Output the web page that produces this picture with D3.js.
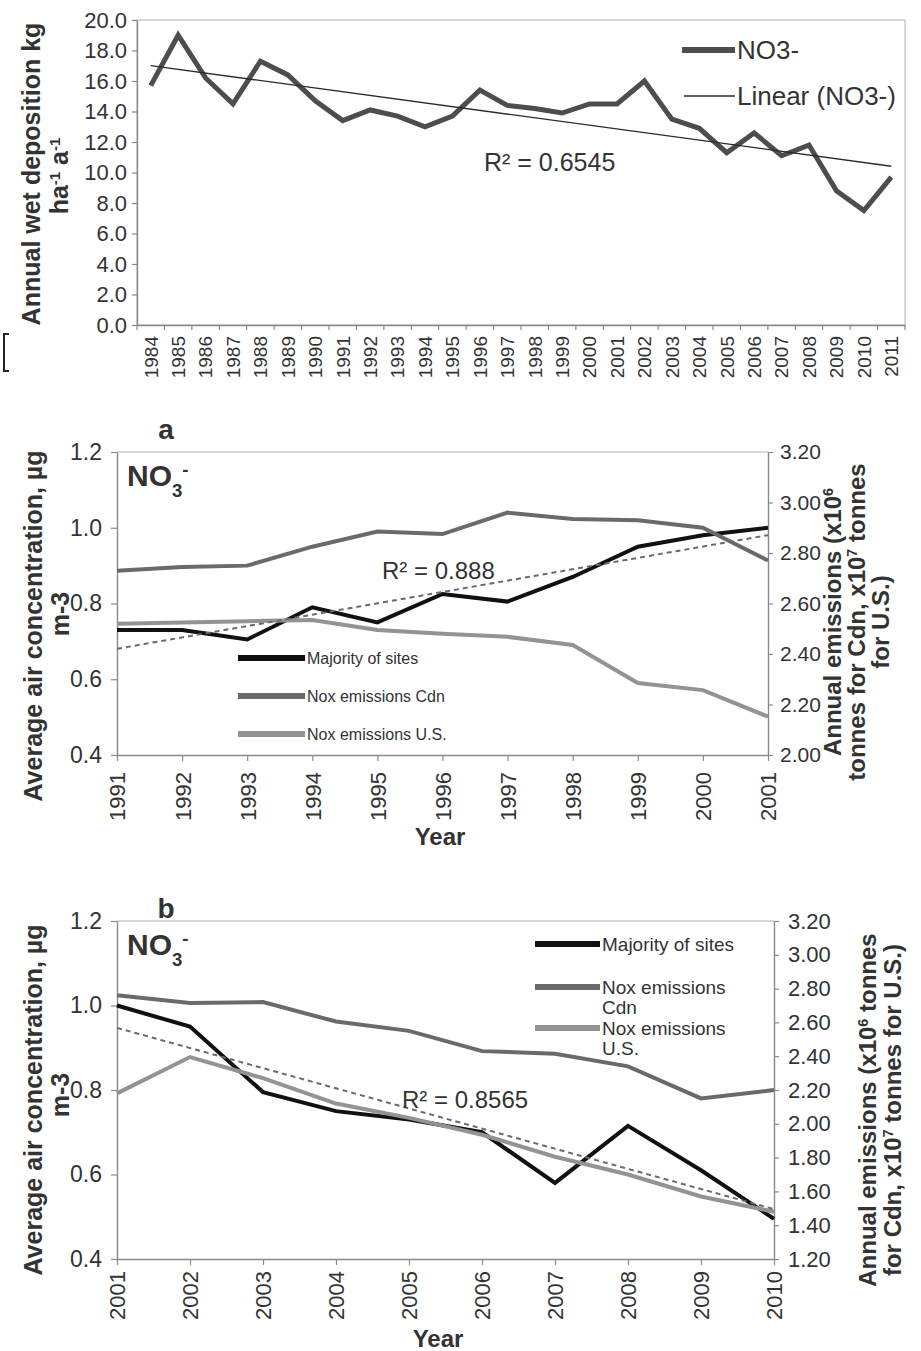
<!DOCTYPE html>
<html>
<head>
<meta charset="utf-8">
<script src="https://cdn.jsdelivr.net/npm/d3@7/dist/d3.min.js"></script>
<style>
  html, body { margin: 0; padding: 0; background: #fff; }
  svg { display: block; }
  text { font-family: "Liberation Sans", Arial, Helvetica, sans-serif; fill: #333; }
</style>
</head>
<body>
<svg id="fig" width="921" height="1351"></svg>
<script>
// ---------- Annual wet deposition of nitrate (kg ha-1 a-1) ----------
const depYears = [1984, 1985, 1986, 1987, 1988, 1989, 1990, 1991, 1992, 1993, 1994, 1995, 1996, 1997,
                  1998, 1999, 2000, 2001, 2002, 2003, 2004, 2005, 2006, 2007, 2008, 2009, 2010, 2011];
const depNO3 = [15.7, 19.0, 16.2, 14.5, 17.3, 16.4, 14.7, 13.4, 14.1, 13.7, 13.0, 13.7, 15.4, 14.4,
                14.2, 13.9, 14.5, 14.5, 16.0, 13.5, 12.9, 11.3, 12.6, 11.1, 11.8, 8.8, 7.5, 9.7];
const depTicks = [0, 2, 4, 6, 8, 10, 12, 14, 16, 18, 20];
const depR2 = "R\u00b2 = 0.6545";

// ---------- Panel a: 1991-2001 ----------
const yearsA = [1991, 1992, 1993, 1994, 1995, 1996, 1997, 1998, 1999, 2000, 2001];
const sitesA = [0.73, 0.73, 0.705, 0.79, 0.75, 0.825, 0.805, 0.87, 0.95, 0.98, 1.0];
const cdnA   = [2.73, 2.745, 2.75, 2.825, 2.885, 2.875, 2.96, 2.935, 2.93, 2.90, 2.77];
const usA    = [2.52, 2.525, 2.53, 2.535, 2.495, 2.48, 2.468, 2.436, 2.285, 2.257, 2.152];
const emisTicksA = [2.0, 2.2, 2.4, 2.6, 2.8, 3.0, 3.2];
const r2A = "R\u00b2 = 0.888";

// ---------- Panel b: 2001-2010 ----------
const yearsB = [2001, 2002, 2003, 2004, 2005, 2006, 2007, 2008, 2009, 2010];
const sitesB = [1.0, 0.95, 0.795, 0.75, 0.73, 0.70, 0.58, 0.715, 0.61, 0.495];
const cdnB   = [2.76, 2.715, 2.72, 2.605, 2.55, 2.43, 2.415, 2.34, 2.15, 2.20];
const usB    = [2.18, 2.395, 2.27, 2.12, 2.035, 1.935, 1.805, 1.70, 1.57, 1.48];
const emisTicksB = [1.2, 1.4, 1.6, 1.8, 2.0, 2.2, 2.4, 2.6, 2.8, 3.0, 3.2];
const r2B = "R\u00b2 = 0.8565";

const concTicks = [0.4, 0.6, 0.8, 1.0, 1.2];
const seriesNames = ["Majority of sites", "Nox emissions Cdn", "Nox emissions U.S."];

// ---------- shared styling ----------
const AXIS = "#8a8a8a", FRAME = "#b0b0b0", INK = "#333";
const C_SITES = "#111", C_CDN = "#6a6a6a", C_US = "#939393", C_TREND = "#6a6a6a";

const svg = d3.select("#fig");

// least-squares line through (x, y) pairs
function linearFit(xs, ys) {
  const mx = d3.mean(xs), my = d3.mean(ys);
  let sxy = 0, sxx = 0;
  xs.forEach((x, i) => { sxy += (x - mx) * (ys[i] - my); sxx += (x - mx) * (x - mx); });
  const slope = sxy / sxx, icpt = my - slope * mx;
  return x => icpt + slope * x;
}

function styleAxis(g, size) {
  g.attr("font-family", null).attr("font-size", null);
  g.select(".domain").attr("stroke", AXIS).attr("stroke-width", 1.4);
  g.selectAll(".tick line").attr("stroke", AXIS).attr("stroke-width", 1.2);
  g.selectAll(".tick text").attr("fill", INK).style("font-size", size + "px");
}

// rotated (bottom-to-top) text, centred on (cx, cy)
function vText(g, cx, cy, parts, size, weight) {
  const t = g.append("text")
    .attr("transform", `translate(${cx},${cy}) rotate(-90)`)
    .attr("text-anchor", "middle").attr("dy", "0.35em")
    .style("font-size", size + "px").style("font-weight", weight || "bold").attr("fill", "#3a3a3a");
  addParts(t, parts);
  return t;
}

// parts: array of strings or {t, sup|sub}
function addParts(t, parts) {
  parts.forEach(p => {
    if (typeof p === "string") t.append("tspan").text(p);
    else t.append("tspan").text(p.t)
      .attr("baseline-shift", p.sup ? "super" : "sub")
      .style("font-size", (p.scale || 0.6) * 100 + "%");
  });
}

// ================= Panel: wet deposition =================
(function () {
  const L = 137, R = 905, T = 20, B = 325;
  const g = svg.append("g");
  const x = d3.scaleBand().domain(depYears).range([L, R]);
  const y = d3.scaleLinear().domain([0, 20]).range([B, T]);

  g.append("rect").attr("x", L).attr("y", T).attr("width", R - L).attr("height", B - T)
    .attr("fill", "none").attr("stroke", FRAME).attr("stroke-width", 1);

  const ya = g.append("g").attr("transform", `translate(${L},0)`)
    .call(d3.axisLeft(y).tickValues(depTicks).tickFormat(d3.format(".1f")).tickSize(5).tickSizeOuter(0).tickPadding(5));
  styleAxis(ya, 22);

  const xa = g.append("g").attr("transform", `translate(0,${B})`)
    .call(d3.axisBottom(x).tickSize(0).tickSizeOuter(0));
  styleAxis(xa, 19);
  xa.selectAll(".tick text").attr("transform", "rotate(-90)").attr("text-anchor", "end")
    .attr("x", -11).attr("y", 0).attr("dy", "0.36em");
  // tick marks sit on the category boundaries
  g.append("g").selectAll("line").data(depYears.map(d => x(d)).concat([x.range()[1]]))
    .join("line").attr("x1", d => d).attr("x2", d => d).attr("y1", B).attr("y2", B + 5)
    .attr("stroke", AXIS).attr("stroke-width", 1.2);

  const cx = d => x(d) + x.bandwidth() / 2;
  const fit = linearFit(depYears, depNO3);

  g.append("path").datum(depNO3)
    .attr("d", d3.line().x((d, i) => cx(depYears[i])).y(d => y(d)))
    .attr("fill", "none").attr("stroke", "#4d4d4d").attr("stroke-width", 5).attr("stroke-linejoin", "miter");

  const ends = [depYears[0], depYears[depYears.length - 1]];
  g.append("line")
    .attr("x1", cx(ends[0])).attr("y1", y(fit(ends[0])))
    .attr("x2", cx(ends[1])).attr("y2", y(fit(ends[1])))
    .attr("stroke", "#2a2a2a").attr("stroke-width", 1.3);

  // legend
  g.append("line").attr("x1", 682).attr("x2", 735).attr("y1", 50).attr("y2", 50)
    .attr("stroke", "#4d4d4d").attr("stroke-width", 6);
  g.append("text").attr("x", 737).attr("y", 50).attr("dy", "0.35em").style("font-size", "26px").text("NO3-");
  g.append("line").attr("x1", 684).attr("x2", 735).attr("y1", 96).attr("y2", 96)
    .attr("stroke", "#2a2a2a").attr("stroke-width", 1.3);
  g.append("text").attr("x", 737).attr("y", 96).attr("dy", "0.35em").style("font-size", "26px").text("Linear (NO3-)");

  g.append("text").attr("x", 484).attr("y", 162).attr("dy", "0.35em").style("font-size", "25px").text(depR2);

  vText(g, 31, 174, ["Annual wet deposition kg"], 25);
  vText(g, 59, 176, ["ha", { t: "-1", sup: true }, " a", { t: "-1", sup: true }], 25);

  // bracket remnant at the left margin
  g.append("path").attr("d", "M9,334 H4 V371 H9").attr("fill", "none").attr("stroke", "#222").attr("stroke-width", 2);
})();

// ================= Panels a and b =================
function drawPanel(cfg) {
  const { L, R, T, B } = cfg.box;
  const g = svg.append("g");
  const x = d3.scalePoint().domain(cfg.years).range([L, R]);
  const yL = d3.scaleLinear().domain([0.4, 1.2]).range([B, T]);
  const yR = d3.scaleLinear().domain(d3.extent(cfg.rightTicks)).range([B, T]);

  g.append("line").attr("x1", L).attr("x2", R).attr("y1", T).attr("y2", T)
    .attr("stroke", FRAME).attr("stroke-width", 1);

  const la = g.append("g").attr("transform", `translate(${L},0)`)
    .call(d3.axisLeft(yL).tickValues(concTicks).tickFormat(d3.format(".1f")).tickSize(6).tickSizeOuter(0).tickPadding(9));
  styleAxis(la, 23);
  const ra = g.append("g").attr("transform", `translate(${R},0)`)
    .call(d3.axisRight(yR).tickValues(cfg.rightTicks).tickFormat(d3.format(".2f")).tickSize(5).tickSizeOuter(0).tickPadding(cfg.rpad));
  styleAxis(ra, cfg.rFont);
  const ba = g.append("g").attr("transform", `translate(0,${B})`)
    .call(d3.axisBottom(x).tickSize(6).tickSizeOuter(0));
  styleAxis(ba, cfg.xFont);
  ba.selectAll(".tick text").attr("transform", "rotate(-90)").attr("text-anchor", "end")
    .attr("x", -cfg.xpad).attr("y", 0).attr("dy", "0.36em");

  const line = scale => d3.line().x((d, i) => x(cfg.years[i])).y(d => scale(d));
  const fit = linearFit(cfg.years, cfg.sites);

  g.append("path").datum(cfg.sites).attr("d", line(yL))
    .attr("fill", "none").attr("stroke", C_SITES).attr("stroke-width", 4);
  g.append("path").datum(cfg.cdn).attr("d", line(yR))
    .attr("fill", "none").attr("stroke", C_CDN).attr("stroke-width", 4);
  g.append("path").datum(cfg.us).attr("d", line(yR))
    .attr("fill", "none").attr("stroke", C_US).attr("stroke-width", 4);

  const y0 = cfg.years[0], y1 = cfg.years[cfg.years.length - 1];
  g.append("line").attr("x1", x(y0)).attr("y1", yL(fit(y0))).attr("x2", x(y1)).attr("y2", yL(fit(y1)))
    .attr("stroke", C_TREND).attr("stroke-width", 2).attr("stroke-dasharray", "5,4");

  g.append("text").attr("x", cfg.r2.x).attr("y", cfg.r2.y).attr("dy", "0.35em")
    .style("font-size", "24px").text(cfg.r2.text);

  // legend
  const colors = [C_SITES, C_CDN, C_US];
  cfg.legend.rows.forEach((row, i) => {
    g.append("line").attr("x1", cfg.legend.x0).attr("x2", cfg.legend.x1)
      .attr("y1", row.y).attr("y2", row.y).attr("stroke", colors[i]).attr("stroke-width", 6);
    const t = g.append("text").attr("x", cfg.legend.x1 + 2).attr("y", row.y)
      .style("font-size", cfg.legend.size + "px");
    row.lines.forEach((s, k) => t.append("tspan").attr("x", cfg.legend.x1 + 2)
      .attr("dy", k === 0 ? "0.35em" : cfg.legend.lh + "px").text(s));
  });

  // panel letter and species label
  g.append("text").attr("x", cfg.letter.x).attr("y", cfg.letter.y).attr("text-anchor", "middle")
    .style("font-size", "28px").style("font-weight", "bold").attr("fill", "#111").text(cfg.letter.t);
  const sp = g.append("text").attr("x", L + 10).attr("y", T + 34)
    .style("font-size", "30px").style("font-weight", "bold").attr("fill", "#1a1a1a");
  addParts(sp, ["NO", { t: "3", sub: true, scale: 0.62 }, { t: "-", sup: true, scale: 0.62 }]);

  // axis titles
  g.append("text").attr("x", cfg.yearX).attr("y", B + cfg.yearDy).attr("text-anchor", "middle")
    .style("font-size", "24px").style("font-weight", "bold").attr("fill", "#3a3a3a").text("Year");
  vText(g, 33, cfg.leftMid, ["Average air concentration, \u00b5g"], 25);
  vText(g, 60, cfg.unitMid, ["m-3"], 25);
  cfg.rightTitle.forEach(row => vText(g, row.x, cfg.rightMid, row.parts, 24));
}

drawPanel({
  box: { L: 117, R: 768, T: 452, B: 755 },
  years: yearsA, sites: sitesA, cdn: cdnA, us: usA,
  rightTicks: emisTicksA, rpad: 7, rFont: 21, xFont: 22, xpad: 17,
  r2: { x: 382, y: 571, text: r2A },
  legend: { x0: 238, x1: 305, size: 16, lh: 18, rows: [
    { y: 658, lines: [seriesNames[0]] },
    { y: 696, lines: [seriesNames[1]] },
    { y: 734, lines: [seriesNames[2]] } ] },
  letter: { x: 166, y: 439, t: "a" },
  yearX: 440, yearDy: 90,
  leftMid: 626, unitMid: 614, rightMid: 622,
  rightTitle: [
    { x: 833, parts: ["Annual emissions (x10", { t: "6", sup: true }] },
    { x: 857, parts: ["tonnes for Cdn, x10", { t: "7", sup: true }, " tonnes"] },
    { x: 881, parts: ["for U.S.)"] } ]
});

drawPanel({
  box: { L: 117, R: 774, T: 921, B: 1259 },
  years: yearsB, sites: sitesB, cdn: cdnB, us: usB,
  rightTicks: emisTicksB, rpad: 9, rFont: 22, xFont: 22, xpad: 12,
  r2: { x: 402, y: 1100, text: r2B },
  legend: { x0: 535, x1: 600, size: 19, lh: 20, rows: [
    { y: 944, lines: [seriesNames[0]] },
    { y: 987, lines: ["Nox emissions", "Cdn"] },
    { y: 1028, lines: ["Nox emissions", "U.S."] } ] },
  letter: { x: 166, y: 918, t: "b" },
  yearX: 438, yearDy: 88,
  leftMid: 1100, unitMid: 1095, rightMid: 1110,
  rightTitle: [
    { x: 868, parts: ["Annual emissions (x10", { t: "6", sup: true }, " tonnes"] },
    { x: 893, parts: ["for Cdn, x10", { t: "7", sup: true }, " tonnes for U.S.)"] } ]
});
</script>
</body>
</html>
